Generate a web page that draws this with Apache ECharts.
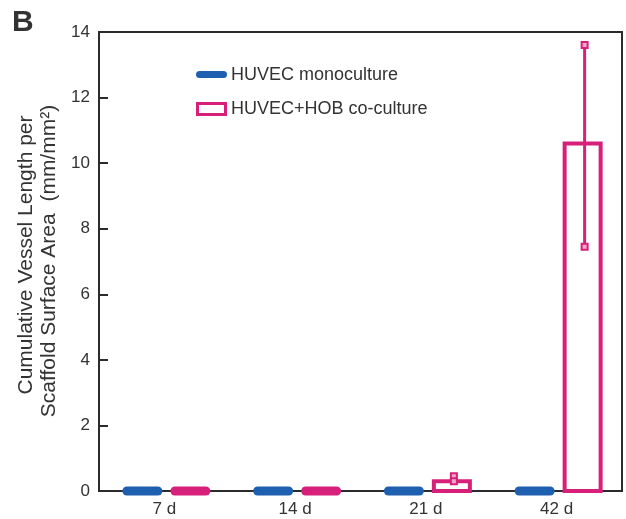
<!DOCTYPE html>
<html><head><meta charset="utf-8">
<script src="https://cdn.jsdelivr.net/npm/echarts@6/dist/echarts.min.js"></script>
<style>html,body{margin:0;padding:0;background:#fff}#c{width:626px;height:519px}</style>
</head><body><div id="c"></div>
<script>
const categories = ['7 d', '14 d', '21 d', '42 d'];
const monoValues = [0, 0, 0, 0];
const coValues = [0, 0, 0.3, 10.6];
const coErrLow = [0, 0, 0.3, 7.45];
const coErrHigh = [0, 0, 0.45, 13.6];
const yTicks = [0, 2, 4, 6, 8, 10, 12, 14];

const BLUE = '#1f5faf';
const PINK = '#d6207a';
const FONT = 'Liberation Sans, Arial, sans-serif';

function barRender(offset, color) {
  return function (params, api) {
    const idx = api.value(0);
    const v = api.value(1);
    const c = api.coord([idx, v]);
    const base = api.coord([idx, 0]);
    const w = 40;
    const cx = c[0] + offset;
    if (v === 0) {
      return {
        type: 'rect',
        shape: { x: cx - w / 2, y: base[1] - 4.5, width: w, height: 9, r: 4.5 },
        style: { fill: color }
      };
    }
    return {
      type: 'rect',
      shape: { x: cx - 18, y: c[1], width: 36, height: base[1] - c[1] },
      style: { fill: '#fff', stroke: color, lineWidth: 4 }
    };
  };
}

function errRender(offset, color) {
  return function (params, api) {
    const idx = api.value(0);
    const lo = api.value(1);
    const hi = api.value(2);
    if (hi === 0) return null;
    const p1 = api.coord([idx, lo]);
    const p2 = api.coord([idx, hi]);
    const cx = p1[0] + offset;
    return {
      type: 'group',
      children: [
        { type: 'line', shape: { x1: cx, y1: p1[1], x2: cx, y2: p2[1] }, style: { stroke: color, lineWidth: 3 } },
        { type: 'rect', shape: { x: cx - 3, y: p2[1] - 3, width: 6, height: 6 }, style: { fill: '#f4a8cc', stroke: color, lineWidth: 2 } },
        { type: 'rect', shape: { x: cx - 3, y: p1[1] - 3, width: 6, height: 6 }, style: { fill: '#f4a8cc', stroke: color, lineWidth: 2 } }
      ]
    };
  };
}

const chart = echarts.init(document.getElementById('c'));
chart.setOption({
  animation: false,
  backgroundColor: '#fff',
  textStyle: { fontFamily: FONT },
  grid: { left: 99, right: 4, top: 32, bottom: 28, containLabel: false, outerBoundsMode: 'none', show: true, borderColor: '#2b2b2b', borderWidth: 2, backgroundColor: 'transparent' },
  xAxis: {
    type: 'category', data: categories, boundaryGap: true,
    axisLine: { lineStyle: { color: '#2b2b2b', width: 2 } },
    axisTick: { show: false },
    axisLabel: { color: '#333', fontSize: 17, margin: 10, fontFamily: FONT },
    splitLine: { show: false }
  },
  yAxis: {
    type: 'value', min: 0, max: 14, interval: 2,
    axisLine: { show: true, lineStyle: { color: '#2b2b2b', width: 2 } },
    axisTick: { show: true, inside: true, length: 9, lineStyle: { color: '#2b2b2b', width: 2 } },
    axisLabel: { color: '#333', fontSize: 17, margin: 9, fontFamily: FONT, formatter: v => yTicks.includes(v) ? String(v) : '' },
    splitLine: { show: false }
  },
  graphic: [
    { type: 'text', left: 12, top: 8, style: { text: 'B', fontSize: 30, fontWeight: 'bold', fill: '#333', fontFamily: FONT } },
    { type: 'text', x: 26, y: 255, rotation: Math.PI / 2, style: { text: 'Cumulative Vessel Length per', fontSize: 21, fill: '#333', align: 'center', verticalAlign: 'middle', fontFamily: FONT } },
    { type: 'text', x: 49, y: 261, rotation: Math.PI / 2, style: { text: 'Scaffold Surface Area  (mm/mm²)', fontSize: 21, fill: '#333', align: 'center', verticalAlign: 'middle', fontFamily: FONT } },
    { type: 'rect', shape: { x: 196, y: 71, width: 31, height: 7, r: 3.5 }, style: { fill: BLUE } },
    { type: 'text', x: 231, y: 75, style: { text: 'HUVEC monoculture', fontSize: 18, fill: '#333', verticalAlign: 'middle', fontFamily: FONT } },
    { type: 'rect', shape: { x: 197.5, y: 103.5, width: 28, height: 11 }, style: { fill: '#fff', stroke: PINK, lineWidth: 3 } },
    { type: 'text', x: 231, y: 109, style: { text: 'HUVEC+HOB co-culture', fontSize: 18, fill: '#333', verticalAlign: 'middle', fontFamily: FONT } }
  ],
  series: [
    { type: 'custom', name: 'HUVEC monoculture', renderItem: barRender(-22, BLUE), data: monoValues.map((v, i) => [i, v]), encode: { x: 0, y: 1 }, z: 3 },
    { type: 'custom', name: 'HUVEC+HOB co-culture', renderItem: barRender(26, PINK), data: coValues.map((v, i) => [i, v]), encode: { x: 0, y: 1 }, z: 3 },
    { type: 'custom', name: 'error', renderItem: errRender(28, PINK), data: coErrLow.map((v, i) => [i, v, coErrHigh[i]]), encode: { x: 0, y: [1, 2] }, z: 4 }
  ]
});
</script></body></html>
